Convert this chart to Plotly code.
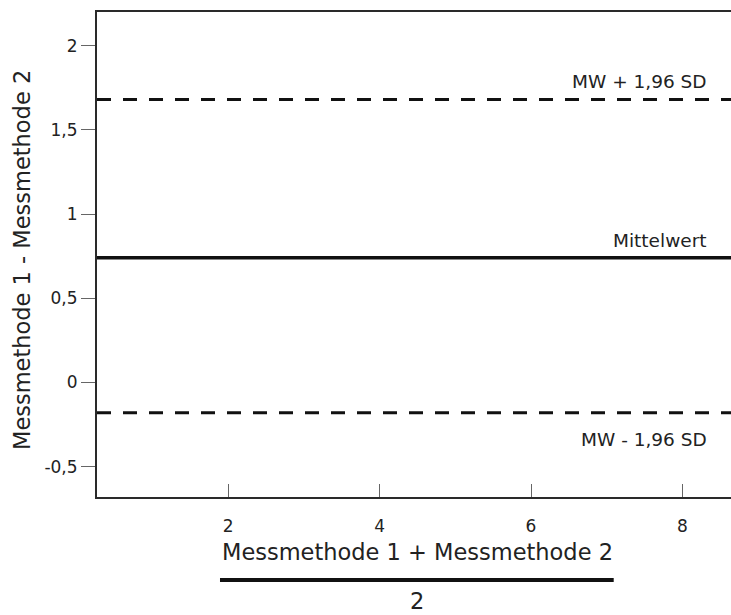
import plotly.graph_objects as go

# Data
y_ticks = [-0.5, 0, 0.5, 1, 1.5, 2]
y_tick_labels = ["-0,5", "0", "0,5", "1", "1,5", "2"]
x_ticks = [2, 4, 6, 8]
x_tick_labels = ["2", "4", "6", "8"]
x_range = [0.27, 8.64]
y_range = [-0.68, 2.2]

line_names = ["MW + 1,96 SD", "Mittelwert", "MW - 1,96 SD"]
line_values = [1.68, 0.74, -0.18]
line_dash = ["14px,12px", "solid", "14px,12px"]
line_widths = [3, 3.5, 3]
label_shift = [18, 17, -27]

FONT = "DejaVu Sans"
TXT = "#222222"

fig = go.Figure()
# invisible trace to establish axes
fig.add_trace(go.Scatter(x=x_range, y=y_range, mode="markers",
                         marker=dict(opacity=0), hoverinfo="skip", showlegend=False))

for name, val, dash, w, sh in zip(line_names, line_values, line_dash, line_widths, label_shift):
    fig.add_shape(type="line", xref="x domain", yref="y", x0=0, x1=1, y0=val, y1=val,
                  line=dict(color="#111111", width=w, dash=dash))
    fig.add_annotation(xref="x domain", yref="y", x=0.965, y=val, text=name,
                       showarrow=False, xanchor="right", yanchor="middle", yshift=sh,
                       font=dict(family=FONT, size=18.5, color=TXT))

# X title as fraction
fig.add_annotation(xref="paper", yref="paper", x=0.505, y=-0.113,
                   text="Messmethode 1 + Messmethode 2", showarrow=False,
                   xanchor="center", yanchor="middle",
                   font=dict(family=FONT, size=22.5, color=TXT))
fig.add_shape(type="line", xref="paper", yref="paper", x0=0.194, x1=0.815,
              y0=-0.171, y1=-0.171, line=dict(color="#111111", width=4))
fig.add_annotation(xref="paper", yref="paper", x=0.505, y=-0.215,
                   text="2", showarrow=False, xanchor="center", yanchor="middle",
                   font=dict(family=FONT, size=22.5, color=TXT))
# Y title
fig.add_annotation(xref="paper", yref="paper", x=-0.118, y=0.489,
                   text="Messmethode 1 - Messmethode 2", showarrow=False,
                   textangle=-90, xanchor="center", yanchor="middle",
                   font=dict(family=FONT, size=22.5, color=TXT))

fig.update_layout(
    width=731, height=615,
    margin=dict(l=97, r=0, t=12, b=118),
    plot_bgcolor="white", paper_bgcolor="white",
    showlegend=False,
    xaxis=dict(range=x_range, tickvals=x_ticks, ticktext=x_tick_labels,
               showgrid=False, zeroline=False, showline=True, linecolor="#2a2a2a",
               linewidth=2, mirror=True, ticks="inside", ticklen=13, tickwidth=1,
               tickcolor="#666666", ticklabelstandoff=13,
               tickfont=dict(family=FONT, size=17, color=TXT)),
    yaxis=dict(range=y_range, tickvals=y_ticks, ticktext=y_tick_labels,
               showgrid=False, zeroline=False, showline=True, linecolor="#2a2a2a",
               linewidth=2, ticks="outside", ticklen=14, tickwidth=1,
               tickcolor="#666666", ticklabelstandoff=0,
               tickfont=dict(family=FONT, size=17, color=TXT)),
)

fig.write_html("out.html", config={"responsive": False, "displayModeBar": False},
               post_script="document.body.style.margin='0';document.body.style.overflow='hidden';")
